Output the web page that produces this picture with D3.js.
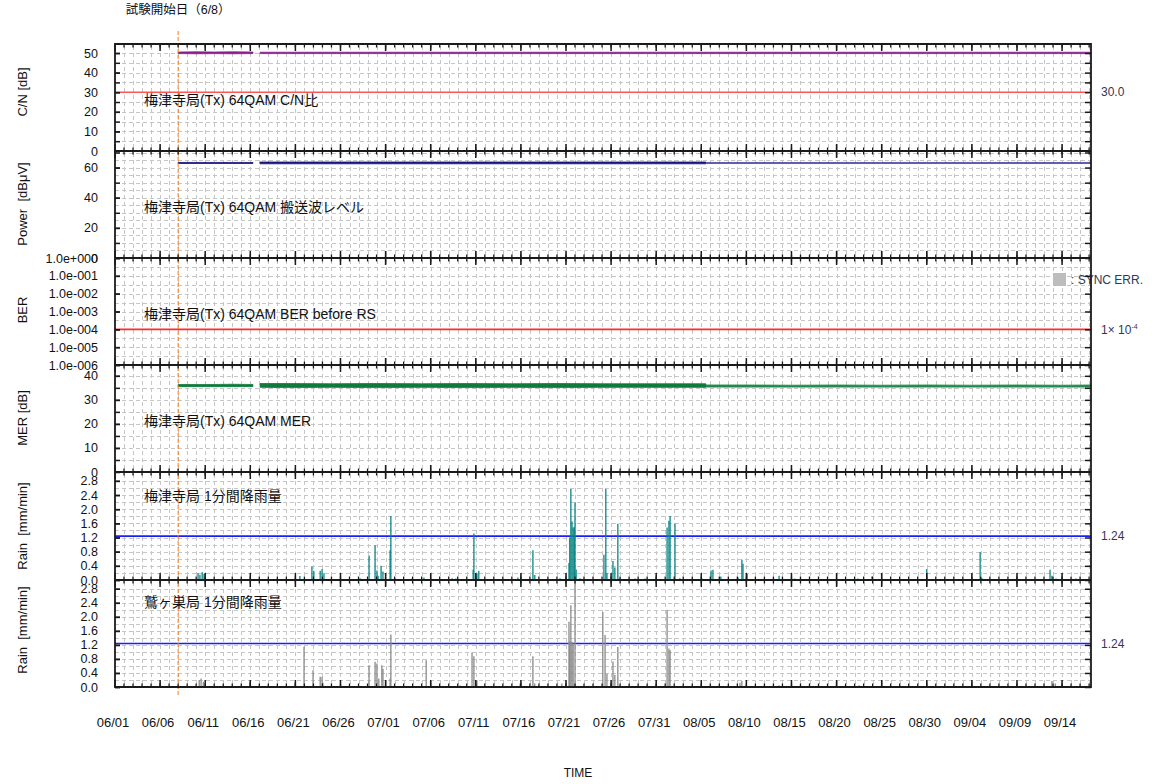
<!DOCTYPE html>
<html>
<head>
<meta charset="utf-8">
<script src="https://cdn.jsdelivr.net/npm/d3@7"></script>
<style>
  body { margin: 0; background: #fff; }
  svg { display: block; }
  text { font-family: "Liberation Sans", "Noto Sans CJK JP", sans-serif; fill: #111; }
</style>
</head>
<body>
<svg id="chart" width="1157" height="784"></svg>
<script>
// ---------------- data ----------------
const timeStart = "06/01 00:00";
const timeEnd = "09/17 05:00";
const testStart = "06/08 00:00";
const testStartLabel = "試験開始日（6/8）";

const xTickLabels = ["06/01","06/06","06/11","06/16","06/21","06/26","07/01","07/06","07/11","07/16",
  "07/21","07/26","07/31","08/05","08/10","08/15","08/20","08/25","08/30","09/04","09/09","09/14"];

const panelTitles = ["梅津寺局(Tx) 64QAM C/N比", "梅津寺局(Tx) 64QAM 搬送波レベル",
  "梅津寺局(Tx) 64QAM BER before RS", "梅津寺局(Tx) 64QAM MER",
  "梅津寺局 1分間降雨量", "鷲ヶ巣局 1分間降雨量"];
const axisTitles = ["C/N [dB]", "Power  [dBμV]", "BER", "MER [dB]", "Rain  [mm/min]", "Rain  [mm/min]"];

const cnTicks = [0, 10, 20, 30, 40, 50];
const powerTicks = [0, 20, 40, 60];
const berTicks = [1, 1e-1, 1e-2, 1e-3, 1e-4, 1e-5, 1e-6];
const merTicks = [0, 10, 20, 30, 40];
const rainTicks = [0, 0.4, 0.8, 1.2, 1.6, 2.0, 2.4, 2.8];

const cnThreshold = 30.0;
const berThreshold = 1e-4;
const rainThreshold = 1.24;

// daily-range readings (min / max) at sample times; null = no reception
const sampleTimes = ["06/08 00:00","06/10 00:00","06/12 00:00","06/14 00:00","06/16 07:00","06/16 14:00",
  "06/17 02:00","06/20 00:00","06/25 00:00","06/30 00:00","07/05 00:00","07/10 00:00","07/15 00:00",
  "07/20 00:00","07/25 00:00","07/30 00:00","08/04 00:00","08/05 12:00","08/05 13:00","08/10 00:00",
  "08/15 00:00","08/20 00:00","08/25 00:00","08/30 00:00","09/04 00:00","09/09 00:00","09/14 00:00","09/17 05:00"];
const cnMax = [50.5,50.6,50.5,50.6,50.5,null,50.4,50.4,50.4,50.4,50.4,50.4,50.4,50.4,50.4,50.4,50.4,50.4,50.4,50.4,50.4,50.4,50.4,50.4,50.4,50.4,50.4,50.4];
const cnMin = [49.7,49.6,49.7,49.6,49.7,null,49.7,49.7,49.7,49.7,49.7,49.7,49.7,49.7,49.7,49.7,49.7,49.7,49.7,49.7,49.7,49.7,49.7,49.7,49.7,49.7,49.7,49.7];
const powerMax = [63.4,63.4,63.4,63.4,63.4,null,63.7,63.7,63.7,63.7,63.7,63.7,63.7,63.7,63.7,63.7,63.7,63.7,63.4,63.4,63.4,63.4,63.4,63.4,63.4,63.4,63.4,63.4];
const powerMin = [62.7,62.7,62.7,62.7,62.7,null,62.5,62.5,62.5,62.5,62.5,62.5,62.5,62.5,62.5,62.5,62.5,62.5,62.7,62.7,62.7,62.7,62.7,62.7,62.7,62.7,62.7,62.7];
const merMax = [36.4,36.4,36.4,36.5,36.4,null,36.8,36.8,36.7,36.8,36.7,36.8,36.7,36.8,36.7,36.7,36.7,36.7,36.2,36.2,36.1,36.2,36.1,36.2,36.1,36.2,36.1,36.2];
const merMin = [35.5,35.5,35.5,35.5,35.5,null,35.2,35.1,35.2,35.1,35.2,35.1,35.2,35.1,35.2,35.2,35.2,35.2,35.3,35.3,35.3,35.3,35.3,35.3,35.3,35.3,35.3,35.3];

// 1-minute rainfall peaks [time, mm/min]
const rainBaishinji = [
  ["06/10 05:00",0.2],["06/10 10:00",0.15],["06/10 16:00",0.22],["06/10 21:00",0.18],["06/21 12:00",0.11],
  ["06/22 20:00",0.38],["06/23 01:00",0.26],["06/23 18:00",0.26],["06/23 23:00",0.31],["06/24 04:00",0.19],
  ["06/28 04:00",0.05],["06/29 04:00",0.69],["06/29 20:00",0.98],["06/30 01:00",0.27],["06/30 04:00",0.12],
  ["06/30 12:00",0.4],["06/30 17:00",0.24],["07/01 12:00",0.84],["07/01 14:00",1.81],["07/02 01:00",0.05],
  ["07/03 22:00",0.04],["07/05 06:00",0.07],["07/08 09:00",0.05],["07/08 19:00",0.04],["07/10 17:00",0.29],
  ["07/10 19:00",1.31],["07/11 03:00",0.19],["07/11 08:00",0.26],["07/15 16:00",0.07],["07/17 08:00",0.84],
  ["07/17 13:00",0.14],["07/20 08:00",0.05],["07/21 08:00",0.48],["07/21 10:00",1.2],["07/21 13:00",2.57],
  ["07/21 16:00",1.65],["07/21 19:00",1.48],["07/21 22:00",1.5],["07/22 00:00",2.19],["07/22 03:00",0.3],
  ["07/22 13:00",0.05],["07/25 05:00",0.71],["07/25 10:00",2.57],["07/25 13:00",0.2],["07/26 05:00",0.54],
  ["07/26 10:00",0.35],["07/26 18:00",1.59],["07/27 00:00",0.05],["07/28 16:00",0.04],["07/29 18:00",0.04],
  ["08/01 05:00",1.48],["08/01 10:00",1.67],["08/01 13:00",1.81],["08/02 02:00",1.59],["08/02 15:00",0.05],
  ["08/05 02:00",0.04],["08/06 02:00",0.27],["08/06 07:00",0.29],["08/07 04:00",0.1],["08/09 02:00",0.07],
  ["08/09 12:00",0.57],["08/09 15:00",0.46],["08/10 02:00",0.17],["08/13 15:00",0.12],["08/15 09:00",0.04],
  ["08/22 09:00",0.04],["08/23 22:00",0.1],["08/30 00:00",0.31],["09/04 22:00",0.79],["09/05 03:00",0.05],
  ["09/09 21:00",0.03],["09/12 16:00",0.29],["09/12 21:00",0.12],["09/13 08:00",0.04],["09/15 13:00",0.04]
];
const rainWashigasu = [
  ["06/10 08:00",0.2],["06/10 13:00",0.24],["06/10 19:00",0.15],["06/15 23:00",0.15],["06/20 23:00",0.12],
  ["06/21 23:00",1.15],["06/22 23:00",0.48],["06/23 18:00",0.29],["06/23 23:00",0.29],["06/24 01:00",0.12],
  ["06/29 04:00",0.62],["06/29 20:00",0.72],["06/30 01:00",0.67],["06/30 06:00",0.24],["06/30 14:00",0.62],
  ["06/30 17:00",0.52],["07/01 12:00",0.24],["07/01 14:00",1.5],["07/05 12:00",0.76],["07/09 06:00",0.04],
  ["07/10 14:00",0.98],["07/10 19:00",0.88],["07/11 03:00",0.19],["07/15 22:00",0.1],["07/17 08:00",0.88],
  ["07/17 13:00",0.1],["07/20 13:00",0.1],["07/21 08:00",1.86],["07/21 10:00",1.3],["07/21 13:00",2.33],
  ["07/21 16:00",1.29],["07/21 19:00",1.24],["07/22 00:00",3.1],["07/25 02:00",2.14],["07/25 08:00",1.48],
  ["07/25 13:00",0.38],["07/26 05:00",0.73],["07/26 10:00",0.35],["07/26 18:00",1.14],["08/01 05:00",2.2],
  ["08/01 10:00",1.1],["08/01 13:00",1.05],["08/09 07:00",0.12],["08/09 12:00",0.17],["08/13 15:00",0.05],
  ["08/22 12:00",0.05],["09/12 21:00",0.17],["09/13 06:00",0.1]
];

// ---------------- layout ----------------
const parseT = d3.timeParse("%m/%d %H:%M");
const parseD = d3.timeParse("%m/%d");
const svg = d3.select("#chart");
const plotL = 115, plotR = 1091;
const x = d3.scaleTime().domain([parseT(timeStart), parseT(timeEnd)]).range([plotL, plotR]);
const allDays = d3.timeDay.range(d3.timeDay.offset(parseT(timeStart), 1), parseT(timeEnd));
const majorDays = xTickLabels.map(parseD);

const berFmt = d => {
  const e = Math.round(Math.log10(d));
  return "1.0e" + (e >= 0 ? "+" : "-") + String(Math.abs(e)).padStart(3, "0");
};
const halfDecades = d3.range(0, 6).map(k => Math.pow(10, -k - 0.5));

const panels = [
  { top: 44, bottom: 151, y: d3.scaleLinear().domain([0, 54.6]), ticks: cnTicks, fmt: d => d,
    minor: d3.range(5, 55, 5), grid: d3.range(5, 55, 5), titleY: 100, axisY: 92 },
  { top: 151, bottom: 258, y: d3.scaleLinear().domain([0, 71]), ticks: powerTicks, fmt: d => d,
    minor: d3.range(10, 71, 10), grid: d3.range(5, 71, 5), titleY: 207, axisY: 204 },
  { top: 258, bottom: 365, y: d3.scaleLog().domain([1e-6, 1]), ticks: berTicks, fmt: berFmt,
    minor: berTicks, grid: berTicks.slice(1, -1).concat(halfDecades), titleY: 314, axisY: 310 },
  { top: 365, bottom: 472, y: d3.scaleLinear().domain([0, 44.5]), ticks: merTicks, fmt: d => d,
    minor: d3.range(5, 44, 5), grid: d3.range(5, 44, 5), titleY: 421, axisY: 418 },
  { top: 472, bottom: 580, y: d3.scaleLinear().domain([0, 3.05]).clamp(true), ticks: rainTicks, fmt: d3.format(".1f"),
    minor: rainTicks, grid: d3.range(0.2, 3.0, 0.2), titleY: 496, axisY: 526 },
  { top: 580, bottom: 687, y: d3.scaleLinear().domain([0, 3.05]).clamp(true), ticks: rainTicks, fmt: d3.format(".1f"),
    minor: rainTicks, grid: d3.range(0.2, 3.0, 0.2), titleY: 602, axisY: 630 }
];
panels.forEach(p => p.y.range([p.bottom, p.top]));

// ---------------- grid ----------------
const gridG = svg.append("g").attr("stroke", "#c6c6c6").attr("stroke-width", 1).attr("stroke-dasharray", "4,3");
panels.forEach(p => {
  gridG.append("g").selectAll("line").data(allDays).join("line")
    .attr("x1", d => Math.round(x(d)) + 0.5).attr("x2", d => Math.round(x(d)) + 0.5)
    .attr("y1", p.top + 2).attr("y2", p.bottom);
  gridG.append("g").selectAll("line").data(p.grid).join("line")
    .attr("x1", plotL).attr("x2", plotR)
    .attr("y1", d => Math.round(p.y(d)) + 0.5).attr("y2", d => Math.round(p.y(d)) + 0.5);
});

// ---------------- thresholds ----------------
const thr = [
  { p: 0, v: cnThreshold, color: "#ff5555", label: "30.0" },
  { p: 2, v: berThreshold, color: "#ff2a2a", label: null },
  { p: 4, v: rainThreshold, color: "#1c1cff", label: "1.24" },
  { p: 5, v: rainThreshold, color: "#1c1cff", label: "1.24" }
];
thr.forEach(t => {
  const yy = panels[t.p].y(t.v);
  svg.append("line").attr("x1", plotL).attr("x2", plotR).attr("y1", yy).attr("y2", yy)
    .attr("stroke", t.color).attr("stroke-width", 1.6);
  if (t.label) svg.append("text").attr("x", 1101).attr("y", yy).attr("dy", "0.35em")
    .attr("font-size", 12).style("fill", "#3a3450").text(t.label);
});
{
  const yy = panels[2].y(berThreshold);
  const t = svg.append("text").attr("x", 1101).attr("y", yy).attr("dy", "0.35em")
    .attr("font-size", 12).style("fill", "#3a3450");
  t.append("tspan").text("1× 10");
  t.append("tspan").attr("font-size", 7).attr("dy", "-0.6em").text("-4");
}

// ---------------- level series (bands) ----------------
const changeT = parseT("08/05 12:00");
const defs = svg.append("defs");
function grad(id, c1, c2) {
  const off = (x(changeT) - plotL) / (plotR - plotL);
  const g = defs.append("linearGradient").attr("id", id).attr("gradientUnits", "userSpaceOnUse")
    .attr("x1", plotL).attr("x2", plotR).attr("y1", 0).attr("y2", 0);
  g.append("stop").attr("offset", off).attr("stop-color", c1);
  g.append("stop").attr("offset", off).attr("stop-color", c2);
}
grad("powerGrad", "#16167e", "#4c4ca8");
grad("merGrad", "#0f7a3c", "#1f8a4c");

function band(pIdx, maxArr, minArr, color) {
  const p = panels[pIdx];
  const rows = sampleTimes.map((t, i) => ({ t: parseT(t), hi: maxArr[i], lo: minArr[i] }));
  const area = d3.area().defined(d => d.hi != null)
    .x(d => x(d.t)).y0(d => p.y(d.lo)).y1(d => p.y(d.hi));
  svg.append("path").datum(rows).attr("d", area)
    .attr("fill", color).attr("stroke", color).attr("stroke-width", 0.8);
}
band(0, cnMax, cnMin, "#8a1c8a");
band(1, powerMax, powerMin, "url(#powerGrad)");
band(3, merMax, merMin, "url(#merGrad)");

// ---------------- rainfall bars ----------------
function rainBars(pIdx, data, color) {
  const p = panels[pIdx];
  svg.append("g").selectAll("line").data(data).join("line")
    .attr("x1", d => x(parseT(d[0]))).attr("x2", d => x(parseT(d[0])))
    .attr("y1", p.y(0)).attr("y2", d => p.y(d[1]))
    .attr("stroke", color).attr("stroke-width", 1.3);
}
rainBars(4, rainBaishinji, "#0a8585");
rainBars(5, rainWashigasu, "#8a8a8a");

// ---------------- SYNC ERR legend ----------------
svg.append("rect").attr("x", 1053).attr("y", 273).attr("width", 13).attr("height", 13).attr("fill", "#bdbdbd");
svg.append("text").attr("x", 1071).attr("y", 280).attr("dy", "0.35em").attr("font-size", 12)
  .style("fill", "#2f3a55").text(": SYNC ERR.");

// ---------------- start-of-test marker ----------------
svg.append("line").attr("x1", x(parseT(testStart))).attr("x2", x(parseT(testStart)))
  .attr("y1", 31).attr("y2", 697).attr("stroke", "#ff7a10").attr("stroke-width", 1)
  .attr("stroke-dasharray", "4,2");
svg.append("text").attr("x", x(parseT(testStart))).attr("y", 14).attr("text-anchor", "middle")
  .attr("font-size", 12.5).text(testStartLabel);

// ---------------- frame, time ticks ----------------
const boundaries = [panels[0].top].concat(panels.map(p => p.bottom));
const frame = svg.append("g").attr("stroke", "#1a1a1a");
boundaries.forEach((by, i) => {
  const up = i === 0 ? 0 : 1, down = i === boundaries.length - 1 ? 0 : 1;
  frame.append("line").attr("x1", plotL).attr("x2", plotR).attr("y1", by).attr("y2", by).attr("stroke-width", 1.8);
  frame.append("g").selectAll("line").data(allDays).join("line")
    .attr("x1", d => x(d)).attr("x2", d => x(d))
    .attr("y1", by - 3.5 * up).attr("y2", by + 3.5 * down).attr("stroke-width", 1.3);
  frame.append("g").selectAll("line").data(majorDays).join("line")
    .attr("x1", d => x(d)).attr("x2", d => x(d))
    .attr("y1", by - 7 * up).attr("y2", by + 7 * down).attr("stroke-width", 1.5);
});
frame.append("line").attr("x1", plotL).attr("x2", plotL).attr("y1", 43).attr("y2", 688).attr("stroke-width", 1.8);
frame.append("line").attr("x1", plotR).attr("x2", plotR).attr("y1", 43).attr("y2", 688).attr("stroke-width", 1.8);

// ---------------- value axes ----------------
panels.forEach((p, i) => {
  const lab = svg.append("g").attr("transform", `translate(${plotL},0)`)
    .call(d3.axisLeft(p.y).tickValues(p.ticks).tickSize(-5).tickPadding(17).tickFormat(p.fmt));
  const mn = svg.append("g").attr("transform", `translate(${plotL},0)`)
    .call(d3.axisLeft(p.y).tickValues(p.minor).tickSize(-5).tickFormat(""));
  const rt = svg.append("g").attr("transform", `translate(${plotR},0)`)
    .call(d3.axisRight(p.y).tickValues(p.minor).tickSize(-6).tickFormat(""));
  [lab, mn, rt].forEach(g => {
    g.select(".domain").remove();
    g.selectAll("line").attr("stroke", "#1a1a1a").attr("stroke-width", 1.5);
  });
  lab.selectAll("text").attr("font-size", 12.5).attr("font-family", null).style("fill", "#111");

  svg.append("text").attr("transform", `translate(22,${p.axisY}) rotate(-90)`)
    .attr("text-anchor", "middle").attr("dy", "0.35em").attr("font-size", 13)
    .attr("xml:space", "preserve").style("white-space", "pre").text(axisTitles[i]);
  svg.append("text").attr("x", 144).attr("y", p.titleY).attr("dy", "0.35em")
    .attr("font-size", 14).text(panelTitles[i]);
});

// ---------------- time labels ----------------
svg.append("g").selectAll("text").data(xTickLabels).join("text")
  .attr("x", d => x(parseD(d)) - 2).attr("y", 722).attr("dy", "0.35em")
  .attr("text-anchor", "middle").attr("font-size", 13).text(d => d);
svg.append("text").attr("x", 578).attr("y", 773).attr("dy", "0.35em")
  .attr("text-anchor", "middle").attr("font-size", 12).text("TIME");
</script>
</body>
</html>
